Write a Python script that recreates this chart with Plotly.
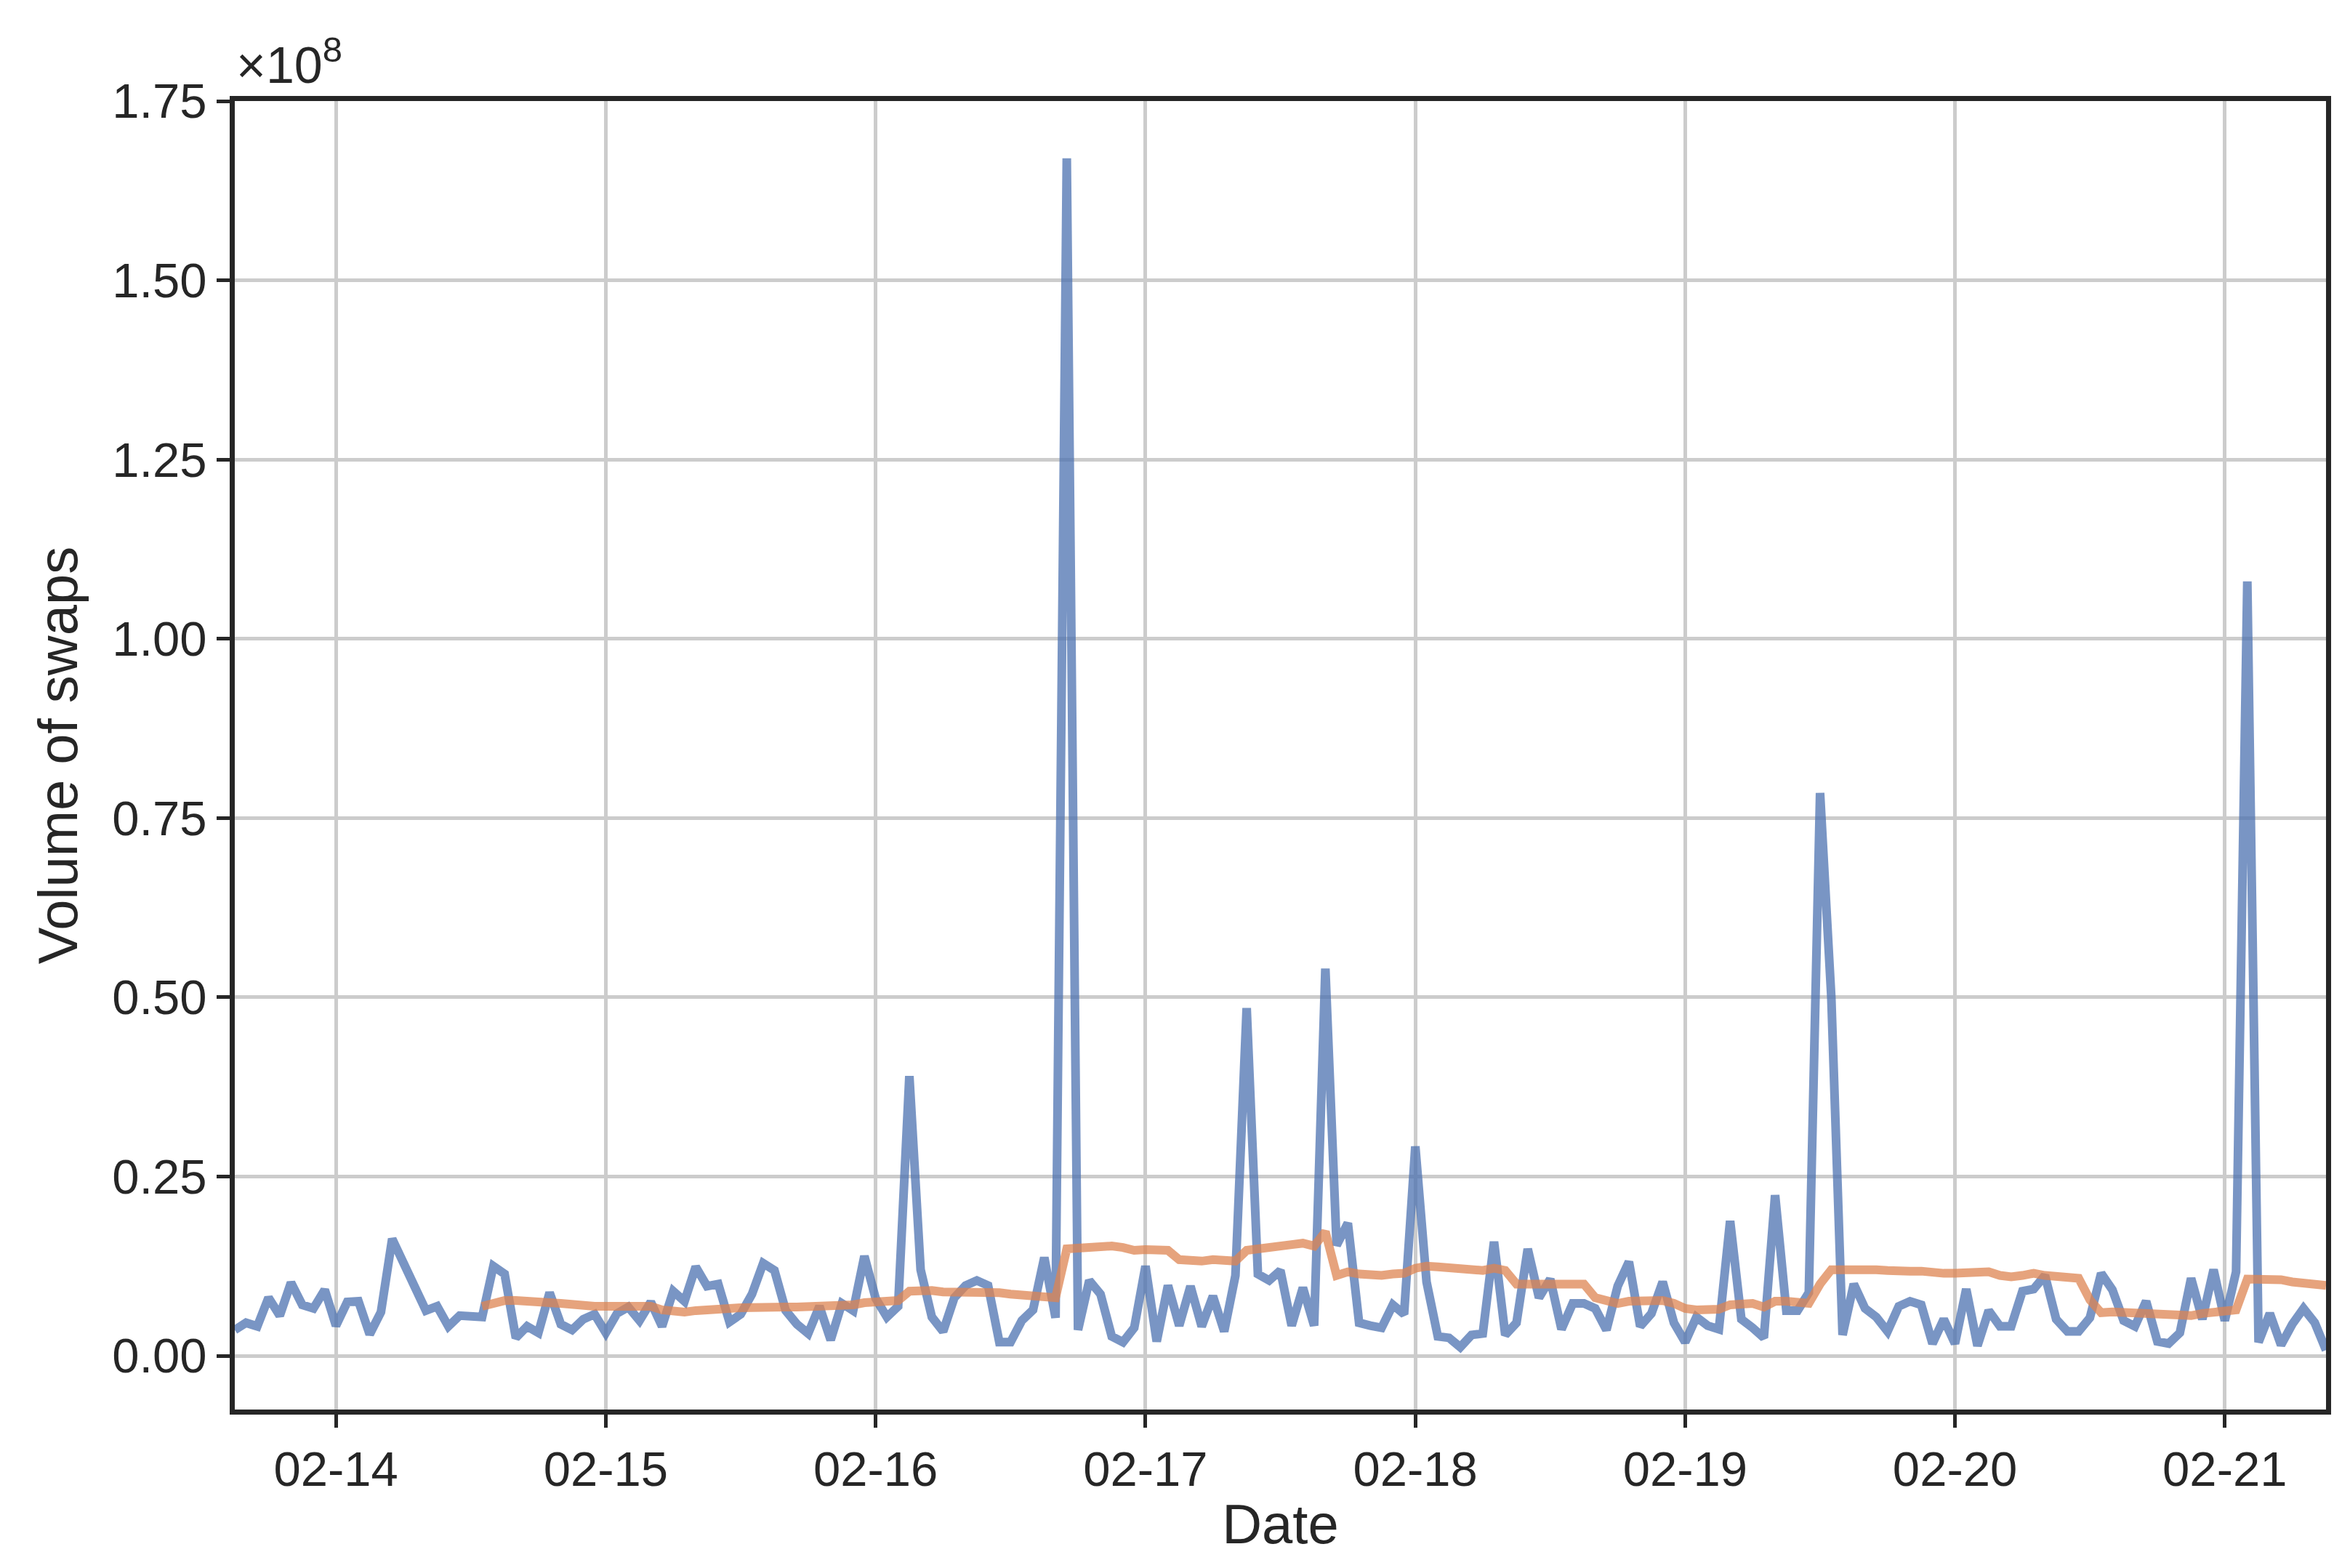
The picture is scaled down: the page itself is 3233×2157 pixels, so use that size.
import pandas as pd
import plotly.graph_objects as go

# Hourly swap volume, in millions, from 2023-02-13 15:00 to 2023-02-21 09:00
volume_m = [
    # 02-13 15..23
    3.6, 4.6, 4.1, 8.1, 5.6, 10.2, 7.1, 6.6, 9.2,
    # 02-14 0..23
    4.2, 7.5, 7.6, 3.0, 6.1, 16.3, 13.1, 10.0, 6.3, 6.9, 4.1, 5.6,
    5.6, 5.4, 12.5, 11.4, 2.5, 4.1, 3.2, 8.8, 4.4, 3.6, 5.1, 5.8,
    # 02-15
    3.2, 5.9, 6.8, 4.9, 7.5, 4.1, 9.0, 7.6, 12.4, 9.7, 10.0, 4.7,
    5.8, 8.6, 12.9, 11.9, 6.3, 4.4, 3.1, 6.9, 2.2, 7.3, 6.3, 13.9,
    # 02-16
    8.0, 5.4, 6.9, 39.0, 12.0, 5.4, 3.4, 8.1, 9.8, 10.5, 9.8, 1.9,
    1.9, 4.9, 6.4, 13.7, 5.3, 167.0, 3.6, 10.5, 8.6, 2.7, 1.9, 3.9,
    # 02-17
    12.5, 2.0, 9.8, 4.2, 9.7, 4.1, 8.3, 3.4, 11.2, 48.5, 11.4, 10.5,
    11.9, 4.2, 9.5, 4.2, 54.0, 15.4, 18.5, 4.6, 4.2, 3.9, 7.1, 5.8,
    # 02-18
    29.2, 10.3, 2.7, 2.5, 1.2, 2.9, 3.1, 15.9, 2.9, 4.6, 14.9, 8.1,
    10.7, 3.7, 7.3, 7.3, 6.6, 3.6, 9.7, 13.1, 4.1, 5.9, 10.3, 4.6,
    # 02-19
    1.9, 5.4, 4.2, 3.7, 18.8, 5.1, 3.9, 2.5, 22.4, 6.3, 6.3, 8.8,
    78.5, 50.0, 2.9, 10.0, 6.6, 5.4, 3.4, 6.9, 7.6, 7.1, 1.7, 5.1,
    # 02-20
    1.7, 9.3, 1.4, 6.3, 4.1, 4.1, 9.0, 9.3, 11.2, 5.1, 3.4, 3.4,
    5.3, 11.5, 9.2, 4.9, 4.1, 7.6, 2.0, 1.7, 3.2, 10.8, 5.1, 12.0,
    # 02-21 0..9
    4.9, 11.7, 108.0, 1.9, 5.9, 1.5, 4.4, 6.6, 4.6, 0.8,
]

# Rolling average (millions), from 2023-02-14 13:00 to 2023-02-21 09:00
rolling_m = [
    # 02-14 13..23
    6.9, 7.4, 7.7, 7.7, 7.7, 7.6, 7.4, 7.3, 7.1, 6.9, 6.9,
    # 02-15
    6.9, 6.9, 6.9, 6.9, 6.9, 6.4, 6.1, 6.1, 6.3, 6.3, 6.4, 6.6,
    6.7, 6.8, 6.8, 6.8, 6.8, 6.8, 6.8, 6.8, 6.8, 6.9, 7.1, 7.4,
    # 02-16
    7.6, 7.7, 7.7, 9.0, 9.2, 9.1, 8.9, 8.9, 9.0, 9.0, 9.0, 8.8,
    8.6, 8.5, 8.3, 8.1, 8.1, 14.9, 15.0, 15.2, 15.4, 15.3, 15.1, 14.7,
    # 02-17
    14.8, 14.7, 14.7, 13.4, 13.2, 13.2, 13.4, 13.2, 13.2, 14.7, 14.9, 15.3,
    15.6, 15.6, 15.7, 15.3, 17.3, 11.2, 11.7, 11.4, 11.2, 11.2, 11.4, 11.5,
    # 02-18
    12.2, 12.5, 12.4, 12.3, 12.0, 11.9, 11.9, 12.2, 11.9, 10.0, 10.0, 10.0,
    9.9, 9.8, 9.8, 10.0, 8.1, 7.6, 7.3, 7.6, 7.6, 7.6, 7.7, 7.3,
    # 02-19
    6.6, 6.4, 6.4, 6.5, 7.1, 7.3, 7.3, 6.8, 7.6, 7.6, 7.3, 7.3,
    10.0, 12.0, 12.0, 12.1, 12.1, 12.0, 11.9, 11.7, 11.8, 11.8, 11.5, 11.5,
    # 02-20
    11.5, 11.6, 11.6, 11.7, 11.2, 11.0, 11.2, 11.5, 11.2, 11.0, 10.9, 10.8,
    7.8, 6.0, 6.1, 6.0, 5.9, 6.0, 5.8, 5.6, 5.5, 5.6, 5.9, 6.1,
    # 02-21 0..9
    6.2, 6.4, 10.7, 10.7, 10.7, 10.6, 10.3, 10.2, 10.0, 9.8,
]

start_volume = "2023-02-13 15:00"
start_rolling = "2023-02-14 13:00"
tick_days = ["2023-02-14", "2023-02-15", "2023-02-16", "2023-02-17",
             "2023-02-18", "2023-02-19", "2023-02-20", "2023-02-21"]
tick_day_labels = ["02-14", "02-15", "02-16", "02-17", "02-18", "02-19", "02-20", "02-21"]
y_tick_values = [0.0, 0.25, 0.5, 0.75, 1.0, 1.25, 1.5, 1.75]
y_tick_labels = ["0.00", "0.25", "0.50", "0.75", "1.00", "1.25", "1.50", "1.75"]

t_vol = pd.date_range(start_volume, periods=len(volume_m), freq="h")
t_roll = pd.date_range(start_rolling, periods=len(rolling_m), freq="h")

FONT = "Liberation Sans, Arial, sans-serif"
fig = go.Figure()
fig.add_trace(go.Scatter(x=t_vol, y=[v * 1e6 for v in volume_m], mode="lines",
                         line=dict(color="rgba(76,114,176,0.75)", width=12), showlegend=False))
fig.add_trace(go.Scatter(x=t_roll, y=[v * 1e6 for v in rolling_m], mode="lines",
                         line=dict(color="rgba(221,132,82,0.75)", width=12), showlegend=False))

axis_common = dict(showline=True, linecolor="#262626", linewidth=7, mirror=True,
                   showgrid=True, gridcolor="#cccccc", gridwidth=5,
                   ticks="outside", ticklen=18, tickwidth=5, tickcolor="#262626",
                   tickfont=dict(family=FONT, size=67, color="#262626"), zeroline=False)

fig.update_xaxes(range=[t_vol[0], t_vol[-1]], tickvals=pd.to_datetime(tick_days),
                 ticktext=tick_day_labels,
                 title=dict(text="Date", font=dict(family=FONT, size=76, color="#262626"), standoff=15),
                 **axis_common)
fig.update_yaxes(range=[-7.5e6, 1.75e8], tickvals=[v * 1e8 for v in y_tick_values],
                 ticktext=y_tick_labels,
                 title=dict(text="Volume of swaps", font=dict(family=FONT, size=76, color="#262626"), standoff=25),
                 **axis_common)

fig.add_annotation(text="×10<sup>8</sup>", xref="paper", yref="paper", x=0, y=1.0,
                   xanchor="left", yanchor="bottom", yshift=8, showarrow=False,
                   font=dict(family=FONT, size=70, color="#262626"))

fig.update_layout(width=3233, height=2157, plot_bgcolor="white", paper_bgcolor="white",
                  margin=dict(l=315, r=41, t=131, b=226))
fig.write_html("out.html")
